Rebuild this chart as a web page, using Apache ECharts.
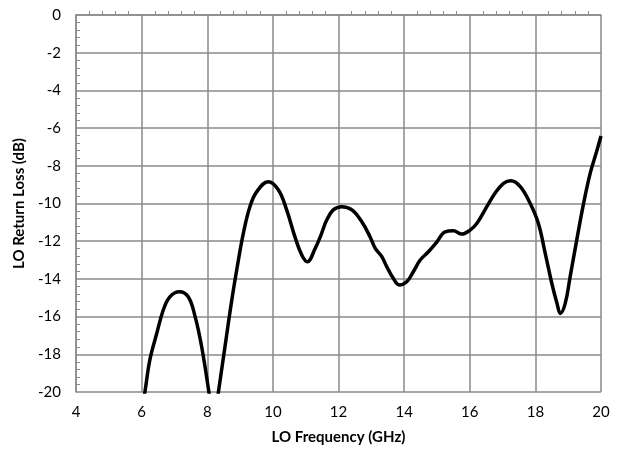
<!DOCTYPE html>
<html>
<head>
<meta charset="utf-8">
<script src="https://cdn.jsdelivr.net/npm/echarts@6/dist/echarts.min.js"></script>
<style>
	html,body{margin:0;padding:0;background:#fff;}
	#chart{width:618px;height:451px;}
</style>
</head>
<body>
<div id="chart"></div>
<script>
	// LO frequency (GHz) and return loss (dB)
	var freq = [5.98, 6.10, 6.25, 6.46, 6.66, 6.86, 7.15, 7.42, 7.63, 7.83, 8.05, 8.15,
		8.24, 8.34, 8.54, 8.75, 8.95, 9.10, 9.30, 9.51, 9.86, 10.17, 10.42, 10.67, 10.88,
		11.05, 11.29, 11.46, 11.64, 11.84, 12.10, 12.41, 12.71, 12.96, 13.12, 13.32, 13.47,
		13.67, 13.85, 14.08, 14.28, 14.49, 14.74, 15.00, 15.25, 15.50, 15.76, 16.01, 16.22,
		16.52, 16.77, 17.03, 17.25, 17.54, 17.84, 18.09, 18.30, 18.50, 18.66, 18.76, 18.91,
		19.06, 19.26, 19.47, 19.67, 19.85, 20.00];
	var returnLoss = [-21.2, -20.0, -18.3, -16.9, -15.65, -14.95, -14.68, -14.95, -16.0, -17.6, -20.0, -21.2,
		-21.2, -20.0, -17.6, -15.1, -13.0, -11.58, -10.17, -9.37, -8.84, -9.28, -10.34, -11.76, -12.73,
		-13.09, -12.38, -11.7, -10.88, -10.34, -10.17, -10.34, -10.97, -11.76, -12.38, -12.82, -13.35,
		-13.97, -14.32, -14.15, -13.62, -13.0, -12.56, -12.03, -11.5, -11.45, -11.62, -11.41, -11.05,
		-10.17, -9.46, -8.93, -8.79, -9.1, -9.99, -11.05, -12.64, -14.23, -15.3, -15.83, -15.3,
		-13.88, -11.94, -9.99, -8.4, -7.34, -6.42];

	var xMin = 4, xMax = 20, xStep = 2;
	var yMin = -20, yMax = 0, yStep = 2;

	var seriesData = [];
	for(let i=0;i<freq.length;i++){
		seriesData.push([freq[i], returnLoss[i]]);
	}

	var gridColor = '#8a8a8a';
	var font = 'Lato, "Open Sans", sans-serif';

	var option = {
		backgroundColor: '#fff',
		animation: false,
		grid: {
			left: 76,
			right: 17,
			top: 15,
			bottom: 59
		},
		xAxis: {
			type: 'value',
			min: xMin,
			max: xMax,
			interval: xStep,
			name: 'LO Frequency (GHz)',
			nameLocation: 'middle',
			nameGap: 38,
			nameTextStyle: {fontFamily: font, fontSize: 15, fontWeight: 'bold', color: '#000'},
			axisLine: {show: true, lineStyle: {color: gridColor, width: 1.5}},
			axisTick: {show: false, inside: true},
			minorTick: {show: true, splitNumber: 5, length: 4, lineStyle: {color: gridColor, width: 1}},
			axisLabel: {fontFamily: font, fontSize: 15, color: '#000', margin: 13},
			splitLine: {show: true, lineStyle: {color: gridColor, width: 1.5}}
		},
		yAxis: {
			type: 'value',
			min: yMin,
			max: yMax,
			interval: yStep,
			name: 'LO Return Loss (dB)',
			nameLocation: 'middle',
			nameGap: 49,
			nameTextStyle: {fontFamily: font, fontSize: 15, fontWeight: 'bold', color: '#000'},
			axisLine: {show: true, lineStyle: {color: gridColor, width: 1.5}},
			axisTick: {show: false, inside: true},
			minorTick: {show: true, splitNumber: 5, length: 4, lineStyle: {color: gridColor, width: 1}},
			axisLabel: {fontFamily: font, fontSize: 15, color: '#000', margin: 15},
			splitLine: {show: true, lineStyle: {color: gridColor, width: 1.5}}
		},
		series: [
			{
				type: 'line',
				data: seriesData,
				smooth: 0.4,
				clip: true,
				showSymbol: false,
				lineStyle: {color: '#000', width: 3.5}
			}
		]
	};

	var myChart = echarts.init(document.getElementById('chart'));
	myChart.setOption(option);
</script>
</body>
</html>
